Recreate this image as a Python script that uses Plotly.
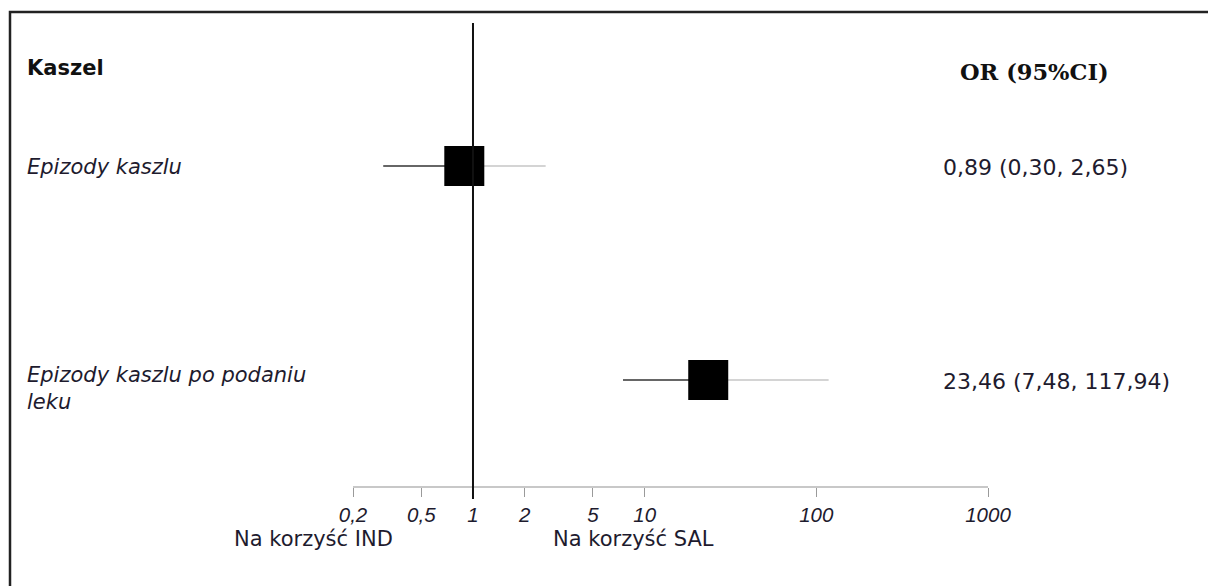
import plotly.graph_objects as go
import math

# ---- data ----
group_title = "Kaszel"
header_right = "OR (95%CI)"
outcomes = ["Epizody kaszlu", "Epizody kaszlu po podaniu<br>leku"]
or_vals = [0.89, 23.46]
ci_low = [0.30, 7.48]
ci_high = [2.65, 117.94]
or_labels = ["0,89 (0,30, 2,65)", "23,46 (7,48, 117,94)"]
tick_vals = [0.2, 0.5, 1, 2, 5, 10, 100, 1000]
tick_text = ["0,2", "0,5", "1", "2", "5", "10", "100", "1000"]
favours_left = "Na korzyść IND"
favours_right = "Na korzyść SAL"

W, H = 1208, 586
TXT = "#1e1b2e"
rows = list(range(len(outcomes)))

fig = go.Figure()

# lower half of CI (darker)
xl, yl = [], []
for i in rows:
    xl += [ci_low[i], or_vals[i], None]
    yl += [i, i, None]
fig.add_trace(go.Scatter(x=xl, y=yl, mode="lines",
                         line=dict(color="#666666", width=1.8),
                         hoverinfo="skip", showlegend=False, cliponaxis=False))
# upper half of CI (lighter)
xu, yu = [], []
for i in rows:
    xu += [or_vals[i], ci_high[i], None]
    yu += [i, i, None]
fig.add_trace(go.Scatter(x=xu, y=yu, mode="lines",
                         line=dict(color="#d4d4d4", width=2),
                         hoverinfo="skip", showlegend=False, cliponaxis=False))
# point estimates
fig.add_trace(go.Scatter(x=or_vals, y=rows, mode="markers",
                         marker=dict(symbol="square", size=40, color="black",
                                     line=dict(width=0)),
                         showlegend=False, cliponaxis=False))

# ---- row labels and OR text ----
FONT = "DejaVu Sans"
fig.add_annotation(x=25 / W, y=1 - 68 / H, xref="paper", yref="paper",
                   text="<b>" + group_title + "</b>", showarrow=False,
                   xanchor="left", yanchor="middle",
                   font=dict(family=FONT, size=21, color="#111111"))
fig.add_annotation(x=958 / W, y=1 - 72 / H, xref="paper", yref="paper",
                   text="<b>" + header_right + "</b>", showarrow=False,
                   xanchor="left", yanchor="middle",
                   font=dict(family="DejaVu Serif", size=22.5, color="#111111"))
for i in rows:
    fig.add_annotation(x=25 / W, y=i, xref="paper", yref="y",
                       text="<i>" + outcomes[i] + "</i>", showarrow=False,
                       xanchor="left", yanchor="middle" if i == 0 else "top",
                       yshift=-1 if i == 0 else 19, align="left",
                       font=dict(family=FONT, size=21, color=TXT))
    fig.add_annotation(x=941 / W, y=i, xref="paper", yref="y",
                       text=or_labels[i], showarrow=False,
                       xanchor="left", yanchor="middle", yshift=-1,
                       font=dict(family=FONT, size=22, color=TXT))

# favour labels
fig.add_annotation(x=313 / W, y=1 - 539 / H, xref="paper", yref="paper",
                   text=favours_left, showarrow=False, xanchor="center",
                   yanchor="middle",
                   font=dict(family=FONT, size=21, color=TXT))
fig.add_annotation(x=633 / W, y=1 - 539 / H, xref="paper", yref="paper",
                   text=favours_right, showarrow=False, xanchor="center",
                   yanchor="middle",
                   font=dict(family=FONT, size=21, color=TXT))

# reference line at OR = 1
fig.add_shape(type="line", xref="x", yref="paper", x0=1, x1=1,
              y0=1 - 499 / H, y1=1 - 23 / H,
              line=dict(color="#111111", width=2))
# frame (left and top)
fig.add_shape(type="path", xref="paper", yref="paper",
              path=f"M {10/W} 0 L {10/W} {1-12/H} L 1 {1-12/H}",
              line=dict(color="#222222", width=2.5))

# y scale: row 0 at 166 px, row 1 at 380 px from top
y0px, step = 166, 214
ytop = -y0px / step
ybot = (H - y0px) / step

fig.update_layout(
    width=W, height=H,
    margin=dict(l=0, r=0, t=0, b=0, pad=0, autoexpand=False),
    paper_bgcolor="white", plot_bgcolor="white",
    xaxis=dict(type="log", domain=[353 / W, 988 / W],
               range=[math.log10(0.2), math.log10(1000)],
               anchor="free", position=(H - 487) / H,
               showline=True, linecolor="#c8c8c8", linewidth=2,
               ticks="outside", ticklen=9, tickcolor="#9a9a9a", tickwidth=1,
               tickvals=tick_vals, ticktext=tick_text,
               tickfont=dict(family="Liberation Sans", size=20.5, color=TXT,
                             style="italic"),
               showgrid=False, zeroline=False, automargin=False),
    yaxis=dict(range=[ybot, ytop], domain=[0, 1], visible=False,
               showgrid=False, zeroline=False, automargin=False),
)

fig.write_html("out.html")
